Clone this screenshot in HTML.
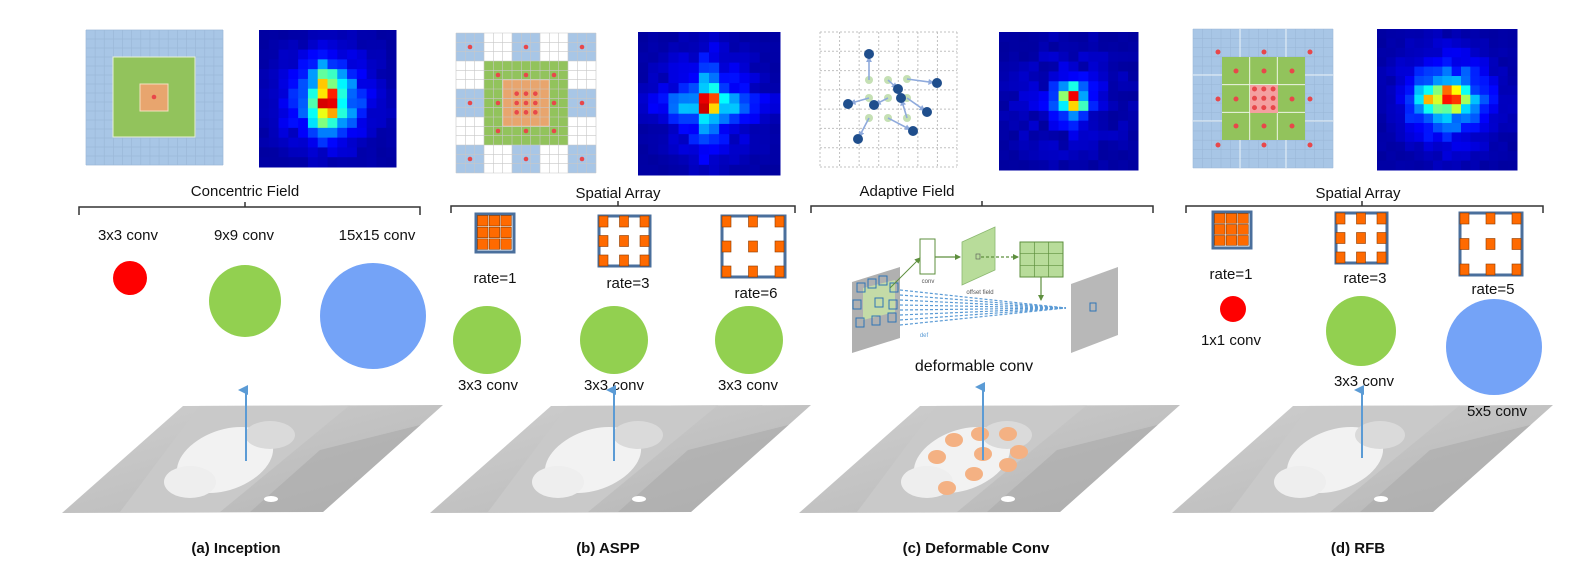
<!DOCTYPE html>
<html><head><meta charset="utf-8">
<style>
html,body{margin:0;padding:0;background:#fff;}
svg{display:block;}
text{font-family:"Liberation Sans",sans-serif;}
</style></head>
<body>
<svg id="s" width="1586" height="587" viewBox="0 0 1586 587" xmlns="http://www.w3.org/2000/svg">
<defs>
<linearGradient id="cat" x1="0" y1="0" x2="1" y2="1">
<stop offset="0" stop-color="#d0d0d0"/><stop offset="0.5" stop-color="#c2c2c2"/><stop offset="1" stop-color="#b4b4b4"/>
</linearGradient>
<marker id="ah" markerWidth="10" markerHeight="10" refX="5" refY="8" orient="auto" markerUnits="userSpaceOnUse">
<path d="M0,10 L5,0 L10,10 Z" fill="#5b9bd5"/></marker>
<marker id="gh" markerWidth="6" markerHeight="6" refX="5" refY="3" orient="auto" markerUnits="userSpaceOnUse"><path d="M0,0 L6,3 L0,6Z" fill="#5e8f3e"/></marker>
<marker id="lh" markerWidth="6" markerHeight="6" refX="5" refY="3" orient="auto" markerUnits="userSpaceOnUse"><path d="M0,0 L6,3 L0,6Z" fill="#8faadc"/></marker>
</defs>
<g id="dyn"></g>

<g font-size="15" fill="#111" text-anchor="middle">
<text x="245" y="196">Concentric Field</text>
<text x="618" y="198">Spatial Array</text>
<text x="907" y="196">Adaptive Field</text>
<text x="1358" y="198">Spatial Array</text>
</g>
<g stroke="#333" stroke-width="1.5" fill="none">
<path d="M79,215 V207 H420 V215 M245,207 V202"/>
<path d="M451,213 V206 H795 V213 M618,206 V201"/>
<path d="M811,213 V206 H1153 V213 M982,206 V201"/>
<path d="M1186,213 V206 H1543 V213 M1362,206 V201"/>
</g>

<g font-size="15" fill="#111" text-anchor="middle">
<text x="128" y="240">3x3 conv</text><text x="244" y="240">9x9 conv</text><text x="377" y="240">15x15 conv</text>
</g>
<circle cx="130" cy="278" r="17" fill="#ff0000"/>
<circle cx="245" cy="301" r="36" fill="#92d050"/>
<circle cx="373" cy="316" r="53" fill="#74a3f7"/>

<g font-size="15" fill="#111" text-anchor="middle">
<text x="495" y="283">rate=1</text><text x="628" y="288">rate=3</text><text x="756" y="298">rate=6</text>
<text x="488" y="390">3x3 conv</text><text x="614" y="390">3x3 conv</text><text x="748" y="390">3x3 conv</text>
</g>
<circle cx="487" cy="340" r="34" fill="#92d050"/>
<circle cx="614" cy="340" r="34" fill="#92d050"/>
<circle cx="749" cy="340" r="34" fill="#92d050"/>

<text x="974" y="371" font-size="16" fill="#111" text-anchor="middle">deformable conv</text>

<g font-size="15" fill="#111" text-anchor="middle">
<text x="1231" y="279">rate=1</text><text x="1365" y="283">rate=3</text><text x="1493" y="294">rate=5</text>
<text x="1231" y="345">1x1 conv</text><text x="1364" y="386">3x3 conv</text>
</g>
<circle cx="1233" cy="309" r="13" fill="#ff0000"/>
<circle cx="1361" cy="331" r="35" fill="#92d050"/>
<circle cx="1494" cy="347" r="48" fill="#74a3f7"/>

<g id="imgs"></g>
<text x="1497" y="416" font-size="15" fill="#111" text-anchor="middle">5x5 conv</text>

<g stroke="#5b9bd5" stroke-width="2">
<line x1="246" y1="461" x2="246" y2="390" marker-end="url(#ah)"/>
<line x1="614" y1="461" x2="614" y2="390" marker-end="url(#ah)"/>
<line x1="983" y1="460" x2="983" y2="387" marker-end="url(#ah)"/>
<line x1="1362" y1="458" x2="1362" y2="390" marker-end="url(#ah)"/>
</g>

<g font-size="15" font-weight="bold" fill="#111" text-anchor="middle">
<text x="236" y="553">(a) Inception</text>
<text x="608" y="553">(b) ASPP</text>
<text x="976" y="553">(c) Deformable Conv</text>
<text x="1358" y="553">(d) RFB</text>
</g>
</svg>
<script>
const NS="http://www.w3.org/2000/svg";
const dyn=document.getElementById('dyn'), imgs=document.getElementById('imgs');
function el(t,a,p){const e=document.createElementNS(NS,t);for(const k in a)e.setAttribute(k,a[k]);(p||dyn).appendChild(e);return e;}
function cl(x){return Math.max(0,Math.min(1,x));}
function jet(v){v=cl(v);const r=cl(1.5-Math.abs(4*v-3)),g=cl(1.5-Math.abs(4*v-2)),b=cl(1.5-Math.abs(4*v-1));return `rgb(${Math.round(r*255)},${Math.round(g*255)},${Math.round(b*255)})`;}
let seed=7;function rnd(){seed=(seed*9301+49297)%233280;return seed/233280;}
function heat(x,y,w,h,n,f){const cw=w/n,ch=h/n;for(let i=0;i<n;i++)for(let j=0;j<n;j++){const u=(i+.5)/n*2-1,v=(j+.5)/n*2-1;let val=0.03+0.12*rnd()*Math.exp(-(u*u+v*v)/0.6)+f(u,v)*(0.7+0.5*rnd());el('rect',{x:x+i*cw,y:y+j*ch,width:cw+.5,height:ch+.5,fill:jet(val)});}}
const E=Math.exp;
heat(259,30,137,137,14,(u,v)=>0.55*E(-(u*u/0.06+(v-0.02)*(v-0.02)/0.15))+0.2*E(-(u*u+v*v)/0.3)+0.35*E(-((u)**2+(v)**2)/0.008));
heat(638,32,142,143,14,(u,v)=>0.95*E(-(u*u+v*v)/0.01)+0.2*E(-(u*u/0.6+v*v/0.02))+0.18*E(-(u*u/0.03+v*v/0.4))+0.1*E(-(u*u+v*v)/0.3));
heat(999,32,139,138,14,(u,v)=>0.6*E(-(((u-0.05)**2)/0.04+((v+0.02)**2)/0.05))+0.35*E(-((u-0.1)**2+(v)**2)/0.006));
heat(1377,29,140,141,15,(u,v)=>0.6*E(-(u*u/0.12+v*v/0.025))+0.25*E(-(u*u/0.25+v*v/0.25))+0.35*E(-((u-0.07)**2+v*v)/0.005));

function gridlines(x,y,w,h,n,col,sw,dash){for(let k=0;k<=n;k++){const a={stroke:col,'stroke-width':sw};if(dash)a['stroke-dasharray']=dash;el('line',Object.assign({x1:x+k*w/n,y1:y,x2:x+k*w/n,y2:y+h},a));el('line',Object.assign({x1:x,y1:y+k*h/n,x2:x+w,y2:y+k*h/n},a));}}
function dot(x,y,r){el('circle',{cx:x,cy:y,r:r||2.3,fill:'#e8474a'});}
el('rect',{x:86,y:30,width:137,height:135,fill:'#a8c6e6'});
gridlines(86,30,137,135,15,'#9bb8d8',0.7);
el('rect',{x:113,y:57,width:82,height:80,fill:'#92c35c',stroke:'#e8f0d8','stroke-width':1});
el('rect',{x:140,y:84,width:28,height:27,fill:'#e8a56e',stroke:'#f4e0c0','stroke-width':1});
dot(154,97);
{const x0=456,y0=33,c=140/15;el('rect',{x:x0,y:y0,width:140,height:140,fill:'#fff'});
for(const bi of [0,6,12])for(const bj of [0,6,12]){if(bi==6&&bj==6)continue;el('rect',{x:x0+bi*c,y:y0+bj*c,width:3*c,height:3*c,fill:'#a8c6e6'});}
el('rect',{x:x0+3*c,y:y0+3*c,width:9*c,height:9*c,fill:'#92c35c'});
el('rect',{x:x0+5*c,y:y0+5*c,width:5*c,height:5*c,fill:'#e8a56e',stroke:'#f4e0c0','stroke-width':1});
gridlines(x0,y0,140,140,15,'#c8c8c8',0.6);
for(const i of [1,7,13])for(const j of [1,7,13]){if(i==7&&j==7)continue;dot(x0+(i+.5)*c,y0+(j+.5)*c);}
for(const i of [4,7,10])for(const j of [4,7,10]){if(i==7&&j==7)continue;dot(x0+(i+.5)*c,y0+(j+.5)*c);}
for(const i of [6,7,8])for(const j of [6,7,8])dot(x0+(i+.5)*c,y0+(j+.5)*c);}
gridlines(820,32,137,135,7,'#c0c0c0',1,'2,2');
{const g=[[869,80],[888,80],[907,79],[869,98],[888,98],[907,98],[869,118],[888,118],[907,118]];
const b=[[869,54],[937,83],[898,89],[848,104],[874,105],[901,98],[858,139],[913,131],[927,112]];
const pairs=[[0,0],[2,1],[1,2],[3,3],[4,4],[5,8],[6,6],[7,7],[8,5]];
for(const p of g)el('circle',{cx:p[0],cy:p[1],r:4,fill:'#c5e0b4'});
for(const [a,c] of pairs){const A=g[a],B=b[c];el('line',{x1:A[0],y1:A[1],x2:B[0]+(A[0]-B[0])*0.12,y2:B[1]+(A[1]-B[1])*0.12,stroke:'#8faadc','stroke-width':1.6,'marker-end':'url(#lh)'});}
for(const p of b)el('circle',{cx:p[0],cy:p[1],r:5,fill:'#1f4e8c'});}
{const x0=1193,y0=29,w=140,h=139;el('rect',{x:x0,y:y0,width:w,height:h,fill:'#a8c6e6'});
gridlines(x0,y0,w,h,15,'#9bb8d8',0.6);
el('rect',{x:1222,y:57,width:83,height:83,fill:'#92c35c'});
for(const k of [1,2])el('line',{x1:1222+k*83/3,y1:57,x2:1222+k*83/3,y2:140,stroke:'#eef5e5','stroke-width':1}),el('line',{x1:1222,y1:57+k*83/3,x2:1305,y2:57+k*83/3,stroke:'#eef5e5','stroke-width':1});
for(const xx of [1240,1286])el('line',{x1:xx,y1:y0,x2:xx,y2:57,stroke:'#eef5f9'}),el('line',{x1:xx,y1:140,x2:xx,y2:y0+h,stroke:'#eef5f9'});
for(const yy of [75,121])el('line',{x1:x0,y1:yy,x2:1222,y2:yy,stroke:'#eef5f9'}),el('line',{x1:1305,y1:yy,x2:x0+w,y2:yy,stroke:'#eef5f9'});
el('rect',{x:1250,y:85,width:28,height:28,fill:'#f4a0a0'});
for(const p of [[1218,52],[1264,52],[1310,52],[1218,99],[1310,99],[1218,145],[1264,145],[1310,145],[1236,71],[1264,71],[1292,71],[1236,99],[1292,99],[1236,126],[1264,126],[1292,126]])dot(p[0],p[1],2.5);
for(const i of [0,1,2])for(const j of [0,1,2])dot(1254.5+i*9.3,89+j*9.3,2.5);}

function kern(x,y,w,h,full){el('rect',{x:x,y:y,width:w,height:h,fill:'#fff',stroke:'#4a6f9c','stroke-width':3});
if(full){for(let i=0;i<3;i++)for(let j=0;j<3;j++)el('rect',{x:x+1.5+i*(w-3)/3,y:y+1.5+j*(h-3)/3,width:(w-3)/3-1.2,height:(h-3)/3-1.2,fill:'#ff6a00',stroke:'#8a3a00','stroke-width':0.6});}
else{for(const i of [0,.5,1])for(const j of [0,.5,1])el('rect',{x:x+i*(w-10),y:y+j*(h-11),width:9,height:11,fill:'#ff6a00',stroke:'#8a3a00','stroke-width':0.6});}}
kern(476,214,38,38,true);kern(599,216,51,50,false);kern(722,216,63,61,false);
kern(1213,212,38,36,true);kern(1336,213,51,50,false);kern(1460,213,62,62,false);

{el('polygon',{points:'852,282 900,267 900,338 852,353',fill:'#b0b0b0'});
el('polygon',{points:'863,288 895,280 895,312 863,320',fill:'#c6e0a6',opacity:0.9});
for(const p of [[857,283],[868,279],[879,276],[890,283],[853,300],[875,298],[889,300],[856,318],[872,316],[888,313]])el('rect',{x:p[0],y:p[1],width:8,height:9,fill:'none',stroke:'#2e75b6','stroke-width':1});
for(let k=0;k<8;k++)el('line',{x1:900,y1:290+k*5,x2:1066,y2:308,stroke:'#5b9bd5','stroke-width':1.2,'stroke-dasharray':'3,2'});
el('polygon',{points:'1071,284 1118,267 1118,335 1071,353',fill:'#b8b8b8'});
el('rect',{x:1090,y:303,width:6,height:8,fill:'none',stroke:'#2e75b6','stroke-width':1});
el('rect',{x:920,y:239,width:15,height:35,fill:'#fff',stroke:'#5e8f3e','stroke-width':1});
el('line',{x1:890,y1:288,x2:920,y2:258,stroke:'#5e8f3e','stroke-width':1,'marker-end':'url(#gh)'});
el('line',{x1:935,y1:257,x2:960,y2:257,stroke:'#5e8f3e','stroke-width':1.3,'marker-end':'url(#gh)'});
el('polygon',{points:'962,242 995,227 995,270 962,285',fill:'#b8dc9a',stroke:'#8bb870','stroke-width':0.8});
el('rect',{x:976,y:254,width:4,height:5,fill:'none',stroke:'#555','stroke-width':0.6});
el('line',{x1:981,y1:257,x2:1018,y2:257,stroke:'#5e8f3e','stroke-width':1.2,'stroke-dasharray':'3,2','marker-end':'url(#gh)'});
el('rect',{x:1020,y:242,width:43,height:35,fill:'#b8dc9a',stroke:'#5e8f3e','stroke-width':1});
for(const k of [1,2]){el('line',{x1:1020+k*43/3,y1:242,x2:1020+k*43/3,y2:277,stroke:'#5e8f3e','stroke-width':.7});el('line',{x1:1020,y1:242+k*35/3,x2:1063,y2:242+k*35/3,stroke:'#5e8f3e','stroke-width':.7});}
el('line',{x1:1041,y1:277,x2:1041,y2:300,stroke:'#5e8f3e','stroke-width':1.2,'marker-end':'url(#gh)'});
const t1=el('text',{x:928,y:283,'font-size':6,fill:'#555','text-anchor':'middle'});t1.textContent='conv';
const t2=el('text',{x:980,y:294,'font-size':6,fill:'#555','text-anchor':'middle'});t2.textContent='offset field';
const t3=el('text',{x:924,y:337,'font-size':6,fill:'#5b9bd5','text-anchor':'middle'});t3.textContent='def';}

function cat(dx){const pts=[[183,406],[443,405],[323,512],[62,513]].map(p=>(p[0]+dx)+','+p[1]).join(' ');
const id='cp'+dx;const cp=el('clipPath',{id:id},imgs);el('polygon',{points:pts},cp);
const g=el('g',{'clip-path':`url(#${id})`},imgs);
el('rect',{x:40+dx,y:400,width:420,height:120,fill:'url(#cat)'},g);
el('polygon',{points:`${200+dx},405 ${350+dx},405 ${220+dx},512 ${120+dx},512`,fill:'#c9c9c9'},g);
el('ellipse',{cx:225+dx,cy:460,rx:50,ry:30,fill:'#f2f2f2',transform:`rotate(-20 ${225+dx} 460)`},g);
el('ellipse',{cx:190+dx,cy:482,rx:26,ry:16,fill:'#eeeeee'},g);
el('ellipse',{cx:270+dx,cy:435,rx:25,ry:14,fill:'#dadada'},g);
el('polygon',{points:`${320+dx},450 ${440+dx},420 ${330+dx},512 ${250+dx},512`,fill:'#aaaaaa',opacity:0.6},g);
el('ellipse',{cx:271+dx,cy:499,rx:7,ry:3,fill:'#fff'},g);}
cat(0);cat(368);cat(737);cat(1110);
for(const p of [[954,440],[980,434],[1008,434],[937,457],[983,454],[1019,452],[1008,465],[974,474],[947,488]])el('ellipse',{cx:p[0],cy:p[1],rx:9,ry:7,fill:'#f4b183'},imgs);
</script>
</body></html>
